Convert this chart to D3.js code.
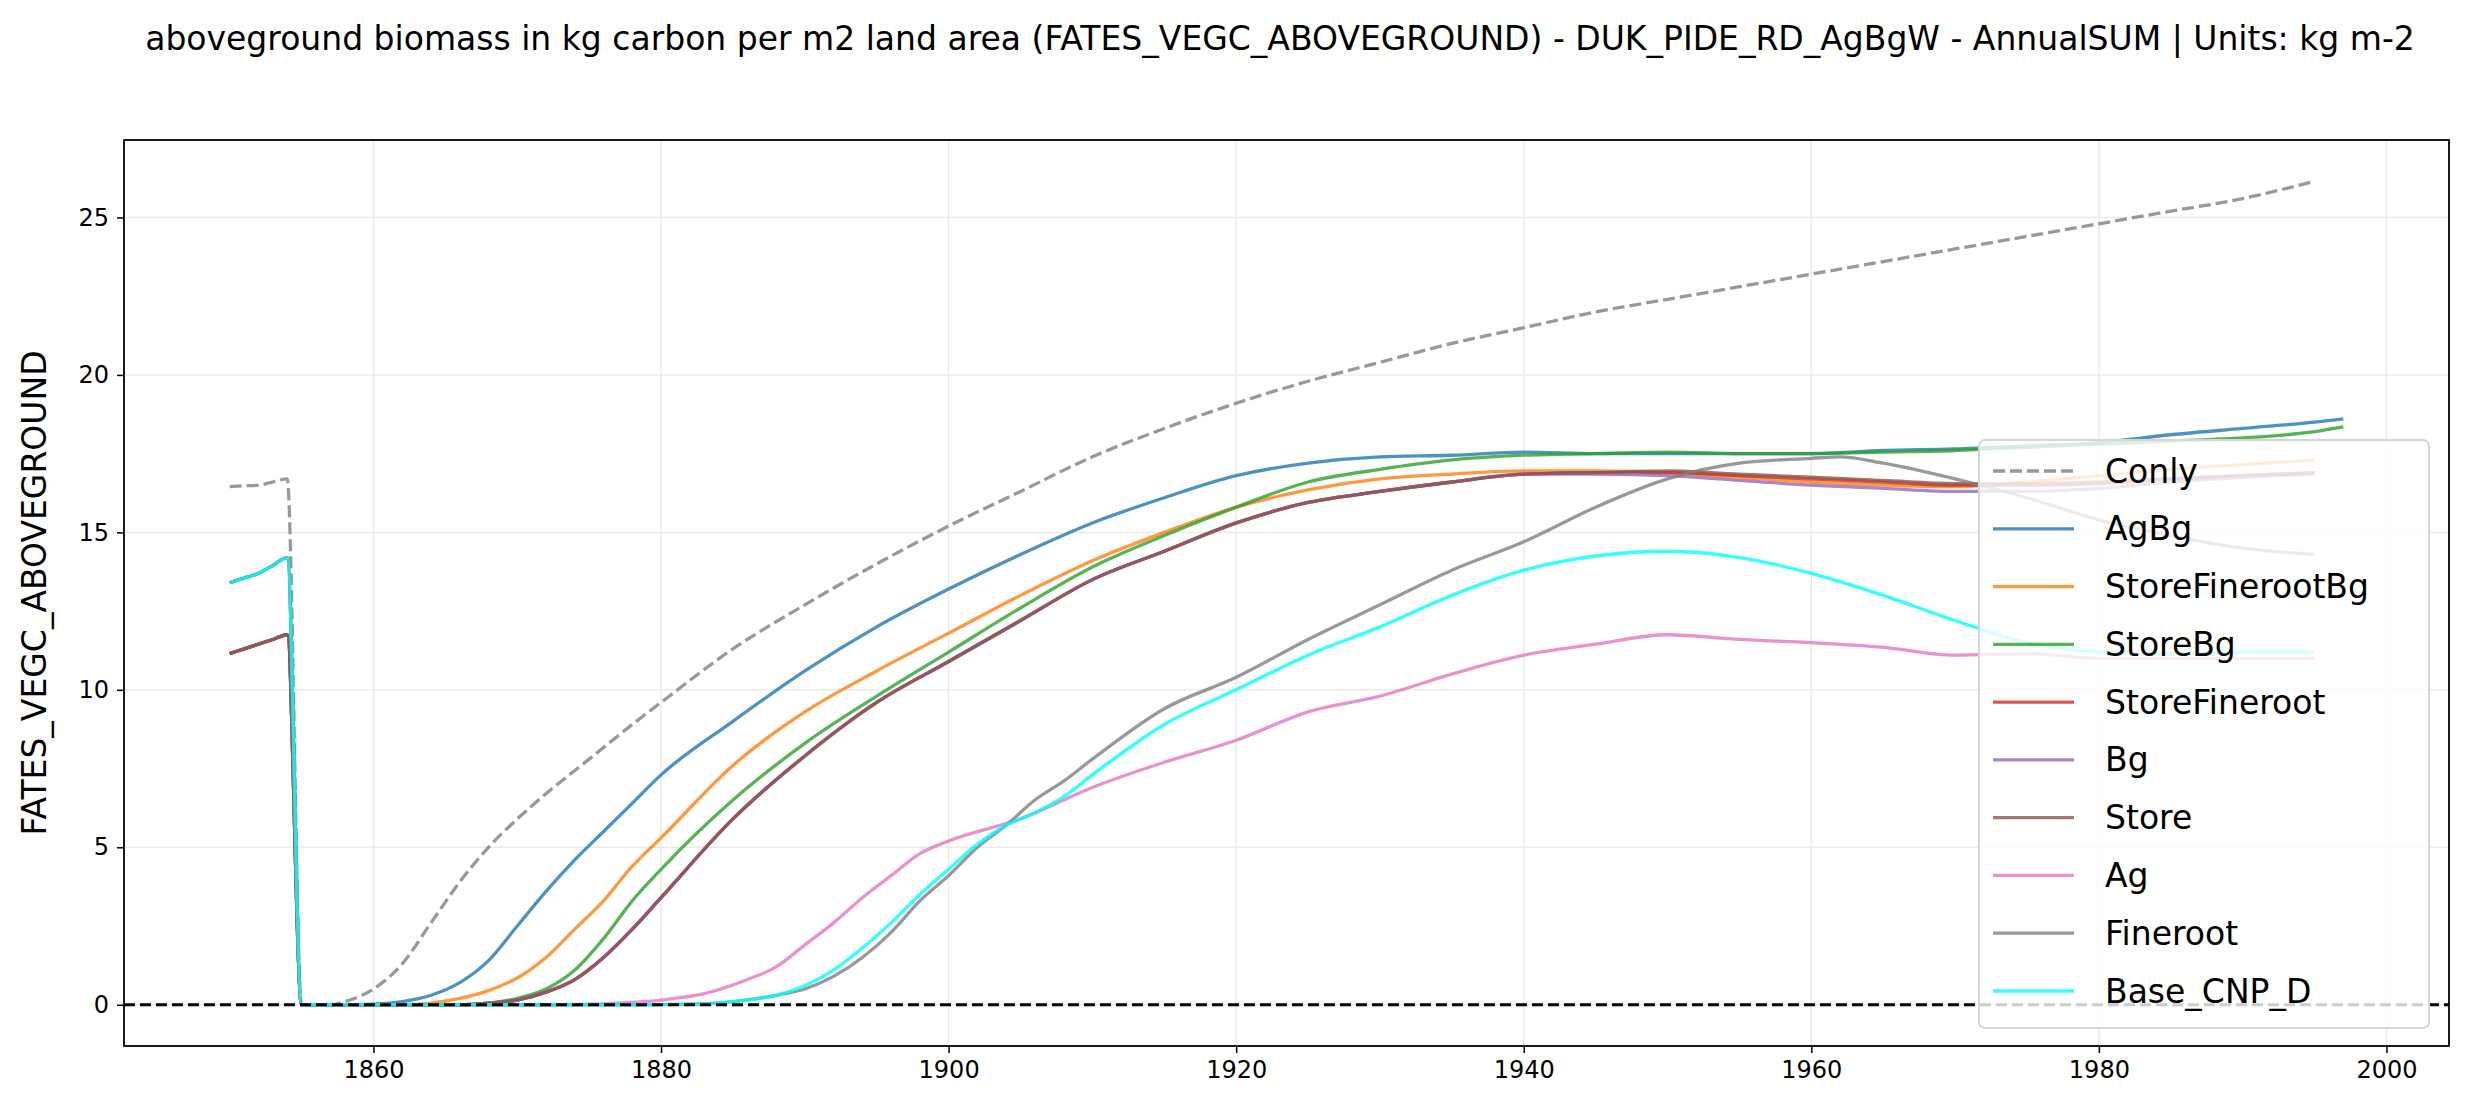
<!DOCTYPE html>
<html><head><meta charset="utf-8">
<script src="https://cdn.jsdelivr.net/npm/d3@7/dist/d3.min.js"></script>
<style>body{margin:0;background:#fff}svg{font-family:"DejaVu Sans",sans-serif}</style>
</head><body><svg id="c" width="2469" height="1113"></svg>
<script>
const seriesNames = ["Conly","AgBg","StoreFinerootBg","StoreBg","StoreFineroot","Bg","Store","Ag","Fineroot","Base_CNP_D"];
const seriesColors = ["#7f7f7f","#1f77b4","#ff7f0e","#2ca02c","#d62728","#9467bd","#8c564b","#e377c2","#7f7f7f","#00ffff"];
const pre13 = [[1850,13.4],[1851,13.55],[1852,13.7],[1853,13.95],[1854,14.2],[1855,0]];
const pre11 = [[1850,11.15],[1851,11.3],[1852,11.45],[1853,11.6],[1854,11.75],[1855,0]];
const conly = [[1850,16.45],[1851,16.48],[1852,16.5],[1853,16.6],[1854,16.7],[1855,0],[1857,0],[1858,0.1],[1860,0.5],[1862,1.3],[1864,2.6],[1866,3.9],[1868,5.0],[1870,5.9],[1872,6.7],[1875,7.8],[1878,8.9],[1880,9.6],[1885,11.3],[1890,12.7],[1895,14.0],[1900,15.2],[1905,16.3],[1910,17.4],[1915,18.3],[1920,19.1],[1925,19.8],[1930,20.4],[1935,21.0],[1940,21.5],[1945,22.0],[1950,22.4],[1955,22.8],[1960,23.2],[1965,23.6],[1970,24.0],[1975,24.4],[1980,24.8],[1985,25.2],[1990,25.6],[1995,26.15]];
const agbg = pre13.concat([[1858,0],[1860,0.02],[1862,0.1],[1864,0.3],[1866,0.7],[1868,1.4],[1870,2.5],[1872,3.6],[1874,4.6],[1876,5.5],[1878,6.4],[1880,7.3],[1885,9.0],[1890,10.6],[1895,12.0],[1900,13.2],[1905,14.3],[1910,15.3],[1915,16.1],[1920,16.8],[1925,17.2],[1930,17.4],[1935,17.45],[1940,17.55],[1945,17.5],[1950,17.5],[1955,17.5],[1960,17.5],[1965,17.6],[1970,17.65],[1975,17.75],[1980,17.85],[1985,18.1],[1990,18.3],[1995,18.5],[1997,18.6]]);
const storeFinerootBg = pre11.concat([[1862,0],[1864,0.05],[1866,0.2],[1868,0.45],[1870,0.85],[1872,1.5],[1874,2.4],[1876,3.3],[1878,4.4],[1880,5.3],[1885,7.6],[1890,9.3],[1895,10.6],[1900,11.8],[1905,13.0],[1910,14.1],[1915,15.0],[1920,15.8],[1925,16.35],[1930,16.7],[1935,16.85],[1940,16.95],[1945,16.95],[1950,16.9],[1955,16.75],[1960,16.6],[1965,16.5],[1970,16.45],[1975,16.6],[1980,16.8],[1985,17.0],[1990,17.15],[1995,17.3]]);
const storeBg = pre11.concat([[1866,0],[1868,0.05],[1870,0.2],[1872,0.5],[1874,1.1],[1876,2.1],[1878,3.3],[1880,4.3],[1885,6.5],[1890,8.3],[1895,9.8],[1900,11.2],[1905,12.6],[1910,13.9],[1915,14.9],[1920,15.8],[1925,16.6],[1930,17.0],[1935,17.3],[1940,17.45],[1945,17.5],[1950,17.55],[1955,17.5],[1960,17.5],[1965,17.55],[1970,17.6],[1975,17.7],[1980,17.8],[1985,17.9],[1990,18.0],[1995,18.2],[1997,18.35]]);
const storeFineroot = pre11.concat([[1866,0],[1868,0.05],[1870,0.15],[1872,0.4],[1874,0.8],[1876,1.5],[1878,2.4],[1880,3.4],[1885,5.9],[1890,7.9],[1895,9.6],[1900,10.9],[1905,12.2],[1910,13.5],[1915,14.4],[1920,15.3],[1925,15.95],[1930,16.3],[1935,16.6],[1940,16.85],[1945,16.9],[1950,16.9],[1955,16.8],[1960,16.7],[1965,16.6],[1970,16.5],[1975,16.5],[1980,16.55],[1985,16.7],[1990,16.8],[1995,16.9]]);
const bg = pre11.concat([[1866,0],[1868,0.05],[1870,0.15],[1872,0.4],[1874,0.8],[1876,1.5],[1878,2.4],[1880,3.4],[1885,5.9],[1890,7.9],[1895,9.6],[1900,10.9],[1905,12.2],[1910,13.5],[1915,14.4],[1920,15.3],[1925,15.95],[1930,16.3],[1935,16.6],[1940,16.85],[1945,16.85],[1950,16.8],[1955,16.65],[1960,16.5],[1965,16.4],[1970,16.3],[1975,16.3],[1980,16.4],[1985,16.6],[1990,16.75],[1995,16.85]]);
const store = pre11.concat([[1866,0],[1868,0.05],[1870,0.15],[1872,0.4],[1874,0.8],[1876,1.5],[1878,2.4],[1880,3.4],[1885,5.9],[1890,7.9],[1895,9.6],[1900,10.9],[1905,12.2],[1910,13.5],[1915,14.4],[1920,15.3],[1925,15.95],[1930,16.3],[1935,16.6],[1940,16.85],[1945,16.9],[1950,16.95],[1955,16.85],[1960,16.75],[1965,16.65],[1970,16.55],[1975,16.55],[1980,16.6],[1985,16.7],[1990,16.8],[1995,16.9]]);
const ag = pre13.concat([[1872,0],[1875,0.02],[1880,0.15],[1883,0.35],[1886,0.8],[1888,1.2],[1890,1.9],[1892,2.6],[1894,3.4],[1896,4.1],[1898,4.8],[1900,5.2],[1905,5.9],[1910,6.9],[1915,7.7],[1920,8.4],[1925,9.3],[1930,9.8],[1935,10.5],[1940,11.1],[1945,11.45],[1950,11.75],[1955,11.6],[1960,11.5],[1965,11.35],[1970,11.1],[1975,11.15],[1980,11.0],[1985,11.0],[1990,11.0],[1995,11.0]]);
const fineroot = pre13.concat([[1878,0],[1882,0.02],[1885,0.1],[1888,0.3],[1890,0.5],[1892,0.9],[1894,1.5],[1896,2.3],[1898,3.3],[1900,4.1],[1902,5.0],[1904,5.7],[1906,6.5],[1908,7.1],[1910,7.8],[1915,9.4],[1920,10.4],[1925,11.6],[1930,12.7],[1935,13.8],[1940,14.7],[1945,15.8],[1950,16.7],[1955,17.2],[1960,17.35],[1962,17.4],[1965,17.2],[1970,16.7],[1975,16.1],[1980,15.4],[1985,14.9],[1990,14.5],[1995,14.3]]);
const base = pre13.concat([[1878,0],[1882,0.02],[1885,0.1],[1888,0.3],[1890,0.6],[1892,1.1],[1894,1.8],[1896,2.6],[1898,3.5],[1900,4.3],[1902,5.1],[1904,5.7],[1906,6.1],[1908,6.6],[1910,7.3],[1915,8.9],[1920,10.0],[1925,11.1],[1930,12.0],[1935,13.0],[1940,13.8],[1945,14.25],[1950,14.4],[1955,14.2],[1960,13.7],[1965,13.0],[1970,12.2],[1975,11.5],[1980,11.2],[1985,11.15],[1990,11.2],[1995,11.2]]);
const seriesData = [conly,agbg,storeFinerootBg,storeBg,storeFineroot,bg,store,ag,fineroot,base];
const xTicks = [1860,1880,1900,1920,1940,1960,1980,2000];
const yTicks = [0,5,10,15,20,25];

const svg = d3.select("#c");
const L=124,R=2449,T=140,B=1046;
const x = d3.scaleLinear().domain([1842.65,2004.35]).range([L,R]);
const y = d3.scaleLinear().domain([-1.31,27.46]).range([B,T]);
const g = svg.append("g");
g.selectAll(".gx").data(xTicks).join("line").attr("x1",d=>x(d)).attr("x2",d=>x(d)).attr("y1",T).attr("y2",B).attr("stroke","#ebebeb").attr("stroke-width",1.5);
g.selectAll(".gy").data(yTicks).join("line").attr("y1",d=>y(d)).attr("y2",d=>y(d)).attr("x1",L).attr("x2",R).attr("stroke","#ebebeb").attr("stroke-width",1.5);
const line = d3.line().x(d=>x(d[0])).y(d=>y(d[1])).curve(d3.curveMonotoneX);
seriesData.forEach((s,i)=>{
  g.append("path").attr("d",line(s)).attr("fill","none").attr("stroke",seriesColors[i]).attr("stroke-opacity",0.8)
   .attr("stroke-width",3.3).attr("stroke-dasharray",i===0?"12,5":null);
});
g.append("line").attr("x1",L).attr("x2",R).attr("y1",y(0)).attr("y2",y(0)).attr("stroke","#000").attr("stroke-width",3).attr("stroke-dasharray","11,5");
const xa = svg.append("g").attr("transform",`translate(0,${B})`).call(d3.axisBottom(x).tickValues(xTicks).tickFormat(d3.format("d")).tickSize(7).tickPadding(8));
const ya = svg.append("g").attr("transform",`translate(${L},0)`).call(d3.axisLeft(y).tickValues(yTicks).tickSize(7).tickPadding(8));
[xa,ya].forEach(a=>{a.select(".domain").remove();a.selectAll("text").attr("font-size",24).attr("fill","#000").attr("font-family","DejaVu Sans");a.selectAll("line").attr("stroke-width",1.5);});
svg.append("rect").attr("x",L).attr("y",T).attr("width",R-L).attr("height",B-T).attr("fill","none").attr("stroke","#000").attr("stroke-width",1.8);
svg.append("text").attr("x",1280).attr("y",50).attr("text-anchor","middle").attr("font-size",33).text("aboveground biomass in kg carbon per m2 land area (FATES_VEGC_ABOVEGROUND) - DUK_PIDE_RD_AgBgW - AnnualSUM | Units: kg m-2");
svg.append("text").attr("transform",`translate(46,${(T+B)/2}) rotate(-90)`).attr("text-anchor","middle").attr("font-size",33).text("FATES_VEGC_ABOVEGROUND");
const lg = svg.append("g");
lg.append("rect").attr("x",1979).attr("y",440).attr("width",450).attr("height",588).attr("rx",6).attr("fill","#fff").attr("fill-opacity",0.8).attr("stroke","#d6d6d6").attr("stroke-width",2);
seriesNames.forEach((n,i)=>{
  const yy = 471+i*(991-471)/9;
  lg.append("line").attr("x1",1993).attr("x2",2074).attr("y1",yy).attr("y2",yy)
    .attr("stroke",seriesColors[i]).attr("stroke-opacity",0.8).attr("stroke-width",3.3).attr("stroke-dasharray",i===0?"12,5":null);
  lg.append("text").attr("x",2105).attr("y",yy).attr("dy","0.35em").attr("font-size",33).text(n);
});
</script></body></html>
